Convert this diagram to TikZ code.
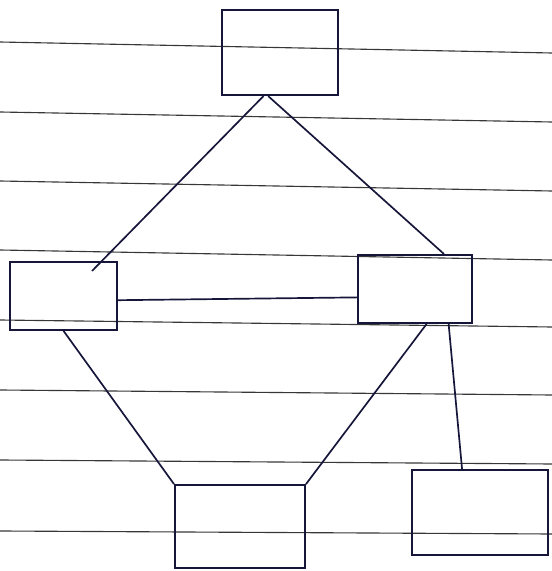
\documentclass[tikz,border=0pt]{standalone}
\usetikzlibrary{calc}
\definecolor{ink}{RGB}{22,22,58}
\definecolor{rule}{RGB}{55,55,55}
\begin{document}
\begin{tikzpicture}[
    box/.style={draw=ink, line width=1.4pt, inner sep=0pt},
    link/.style={draw=ink, line width=1.2pt}
  ]
      \useasboundingbox (0,0) rectangle (13.8,14.275);
      \foreach \ya/\yb in {13.225/12.95, 11.475/11.225, 9.75/9.5, 8.025/7.775, 6.275/6.1, 4.525/4.4, 2.775/2.675, 1.0/0.925}
        \draw[rule, line width=0.8pt] (0,\ya) -- (13.8,\yb);
      \node[box, minimum width=2.9cm, minimum height=2.125cm] (top) at (7.0,12.96) {};
      \node[box, minimum width=2.675cm, minimum height=1.7cm] (left) at (1.59,6.875) {};
      \node[box, minimum width=2.85cm, minimum height=1.7cm] (right) at (10.375,7.05) {};
      \node[box, minimum width=3.25cm, minimum height=2.075cm] (mid) at (6.0,1.11) {};
      \node[box, minimum width=3.4cm, minimum height=2.125cm] (rb) at (12.0,1.46) {};
      \coordinate (lend) at (2.3,7.5);
      \draw[link] ($(top.south west)!0.36!(top.south east)$) -- (lend);
      \draw[link] ($(top.south west)!0.4!(top.south east)$) -- ($(right.north west)!0.75!(right.north east)$);
      \draw[link] ($(left.north east)!0.56!(left.south east)$) -- ($(right.north west)!0.62!(right.south west)$);
      \draw[link] (left.south) -- (mid.north west);
      \draw[link] ($(right.south west)!0.6!(right.south east)$) -- (mid.north east);
      \draw[link] ($(right.south west)!0.79!(right.south east)$) -- ($(rb.north west)!0.37!(rb.north east)$);
    \end{tikzpicture}
\end{document}
